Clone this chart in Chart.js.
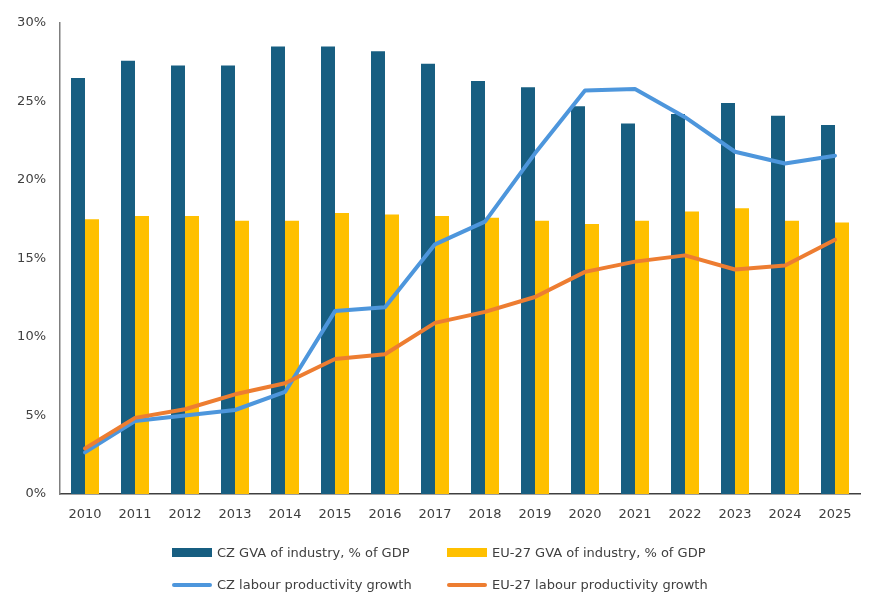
<!DOCTYPE html>
<html lang="en">
<head>
    <meta charset="UTF-8">
    <title>GVA of industry and labour productivity</title>
    <script src="https://cdn.jsdelivr.net/npm/chart.js"></script>
    <style>
        body { margin: 0; background: #fff; font-family: "DejaVu Sans", sans-serif; color: #404040; }
        #wrap { position: relative; width: 883px; height: 611px; }
        .legend { position: absolute; left: 172px; font-size: 13px; display: flex; align-items: center; }
        .swatch { display: inline-block; width: 40px; margin-right: 5px; }
        .bar { height: 9px; }
        .line { height: 4px; border-radius: 2px; }
    </style>
</head>
<body>
    <div id="wrap">
        <canvas id="chart"></canvas>
        <!-- Legend -->
        <div class="legend" style="top:545px;left:172px"><span class="swatch bar" style="background:#175e81"></span>CZ GVA of industry, % of GDP</div>
        <div class="legend" style="top:545px;left:447px"><span class="swatch bar" style="background:#ffc000"></span>EU-27 GVA of industry, % of GDP</div>
        <div class="legend" style="top:577px;left:172px"><span class="swatch line" style="background:#4d96dc"></span>CZ labour productivity growth</div>
        <div class="legend" style="top:577px;left:447px"><span class="swatch line" style="background:#ed7d31"></span>EU-27 labour productivity growth</div>
    </div>

    <script>
        // Data (percent)
        const years = ['2010', '2011', '2012', '2013', '2014', '2015', '2016', '2017', '2018', '2019', '2020', '2021', '2022', '2023', '2024', '2025'];
        const czGva = [26.5, 27.6, 27.3, 27.3, 28.5, 28.5, 28.2, 27.4, 26.3, 25.9, 24.7, 23.6, 24.2, 24.9, 24.1, 23.5];
        const euGva = [17.5, 17.7, 17.7, 17.4, 17.4, 17.9, 17.8, 17.7, 17.6, 17.4, 17.2, 17.4, 18.0, 18.2, 17.4, 17.3];
        const czProd = [2.65, 4.65, 5.0, 5.35, 6.5, 11.65, 11.9, 15.9, 17.35, 21.7, 25.7, 25.8, 24.0, 21.8, 21.05, 21.55];
        const euProd = [2.9, 4.85, 5.4, 6.35, 7.05, 8.6, 8.9, 10.9, 11.6, 12.55, 14.15, 14.8, 15.2, 14.3, 14.55, 16.2];
        const yTicks = [0, 5, 10, 15, 20, 25, 30];

        const textColor = '#404040';
        const ctx = document.getElementById('chart').getContext('2d');
        const chart = new Chart(ctx, {
            type: 'bar',
            data: {
                labels: years,
                datasets: [{
                    type: 'line',
                    label: 'CZ labour productivity growth',
                    data: czProd,
                    borderColor: '#4d96dc',
                    borderWidth: 4,
                    tension: 0,
                    pointRadius: 0,
                    borderJoinStyle: 'round',
                    borderCapStyle: 'round',
                    order: 1
                }, {
                    type: 'line',
                    label: 'EU-27 labour productivity growth',
                    data: euProd,
                    borderColor: '#ed7d31',
                    borderWidth: 4,
                    tension: 0,
                    pointRadius: 0,
                    borderJoinStyle: 'round',
                    borderCapStyle: 'round',
                    order: 0
                }, {
                    label: 'CZ GVA of industry, % of GDP',
                    data: czGva,
                    backgroundColor: '#175e81',
                    categoryPercentage: 0.56,
                    barPercentage: 1.0,
                    order: 2
                }, {
                    label: 'EU-27 GVA of industry, % of GDP',
                    data: euGva,
                    backgroundColor: '#ffc000',
                    categoryPercentage: 0.56,
                    barPercentage: 1.0,
                    order: 2
                }]
            },
            options: {
                responsive: true,
                maintainAspectRatio: false,
                animation: false,
                layout: { padding: { top: 23, right: 23, left: 0, bottom: 81 } },
                scales: {
                    x: {
                        grid: { display: false, drawTicks: false },
                        border: { display: true, color: '#404040', width: 1.5 },
                        ticks: { color: textColor, font: { family: 'DejaVu Sans', size: 13 }, padding: 13, maxRotation: 0 },
                        afterFit: s => { s.height = 36; }
                    },
                    y: {
                        min: 0,
                        max: 30,
                        afterBuildTicks: s => { s.ticks = yTicks.map(v => ({ value: v })); },
                        grid: { display: false, drawTicks: false },
                        border: { display: true, color: '#7f7f7f', width: 1.5 },
                        ticks: { color: textColor, font: { family: 'DejaVu Sans', size: 13 }, padding: 14, callback: v => v + '%' },
                        afterFit: s => { s.width = 60; }
                    }
                },
                plugins: {
                    legend: { display: false },
                    tooltip: { enabled: false }
                }
            }
        });
    </script>
</body>
</html>
